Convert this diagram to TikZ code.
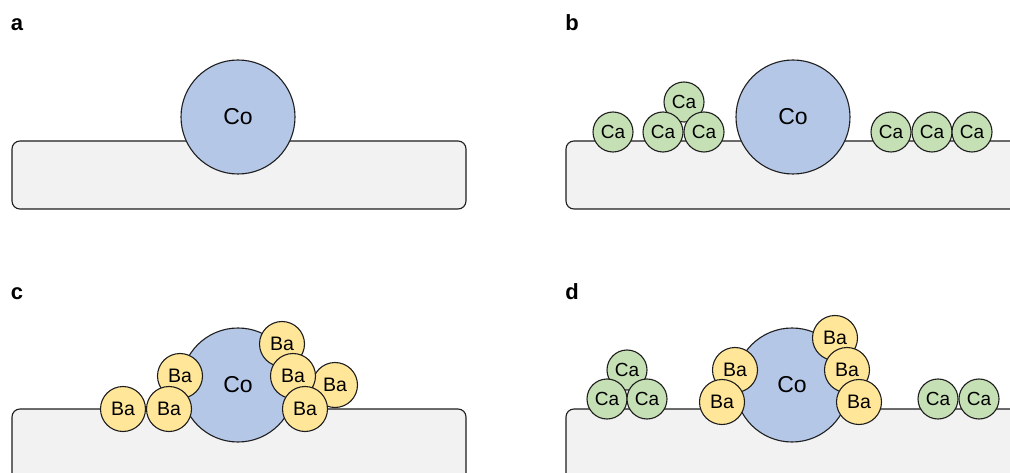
\documentclass[tikz,border=0pt]{standalone}
\usepackage{fontspec}
\setmainfont{Liberation Sans}
\definecolor{coblue}{HTML}{B4C7E7}
\definecolor{cagreen}{HTML}{C5E0B4}
\definecolor{bayellow}{HTML}{FFE699}
\definecolor{slabgrey}{HTML}{F2F2F2}
\definecolor{rim}{HTML}{1E1E1E}
\tikzset{
  atom/.style={circle, draw=rim, line width=1.1pt, inner sep=0pt},
  co/.style={atom, fill=coblue, minimum size=114pt, font=\fontsize{23}{23}\selectfont},
  ca/.style={atom, fill=cagreen, minimum size=40pt, font=\fontsize{19}{19}\selectfont},
  ba/.style={atom, fill=bayellow, minimum size=45pt, font=\fontsize{19.5}{19.5}\selectfont},
  support/.style={draw=rim, line width=1.1pt, fill=slabgrey, rounded corners=8pt},
  panel/.style={anchor=base, inner sep=0pt, font=\fontsize{22}{22}\selectfont\bfseries}
}
\begin{document}
\begin{tikzpicture}[x=1pt,y=-1pt]
  \useasboundingbox (0,0) rectangle (1010,473);
  \clip (0,0) rectangle (1010,473);
  % panel a
  \node[panel] (lbl-a) at (17,31) {a};
  \draw[support] (12,141) rectangle (466,209);
  \node[co] (co-a) at (238,117) {Co};
  % panel b
  \node[panel] (lbl-b) at (572,31) {b};
  \draw[support] (566,141) rectangle (1030,209);
  \node[co] (co-b) at (793,117) {Co};
  \node[ca] (ca-b1) at (613,132) {Ca};
  \node[ca] (ca-b2) at (684,102) {Ca};
  \node[ca] (ca-b3) at (663,132) {Ca};
  \node[ca] (ca-b4) at (704,132) {Ca};
  \node[ca] (ca-b5) at (891,132) {Ca};
  \node[ca] (ca-b6) at (932,132) {Ca};
  \node[ca] (ca-b7) at (972,132) {Ca};
  % panel c
  \node[panel] (lbl-c) at (17,300) {c};
  \draw[support] (12,409) rectangle (466,490);
  \node[co] (co-c) at (238,385) {Co};
  \node[ba] (ba-c1) at (180,376) {Ba};
  \node[ba] (ba-c2) at (169,409) {Ba};
  \node[ba] (ba-c3) at (123,409) {Ba};
  \node[ba] (ba-c4) at (335,385) {Ba};
  \node[ba] (ba-c5) at (282,344) {Ba};
  \node[ba] (ba-c6) at (293,376) {Ba};
  \node[ba] (ba-c7) at (305,409) {Ba};
  % panel d
  \node[panel] (lbl-d) at (572,299) {d};
  \draw[support] (566,409) rectangle (1030,490);
  \node[co] (co-d) at (792,385) {Co};
  \node[ca] (ca-d1) at (627,370) {Ca};
  \node[ca] (ca-d2) at (607,399) {Ca};
  \node[ca] (ca-d3) at (647,399) {Ca};
  \node[ca] (ca-d4) at (938,399) {Ca};
  \node[ca] (ca-d5) at (979,399) {Ca};
  \node[ba] (ba-d1) at (735,370) {Ba};
  \node[ba] (ba-d2) at (722,402) {Ba};
  \node[ba] (ba-d3) at (835,338) {Ba};
  \node[ba] (ba-d4) at (847,370) {Ba};
  \node[ba] (ba-d5) at (859,402) {Ba};
\end{tikzpicture}
\end{document}
